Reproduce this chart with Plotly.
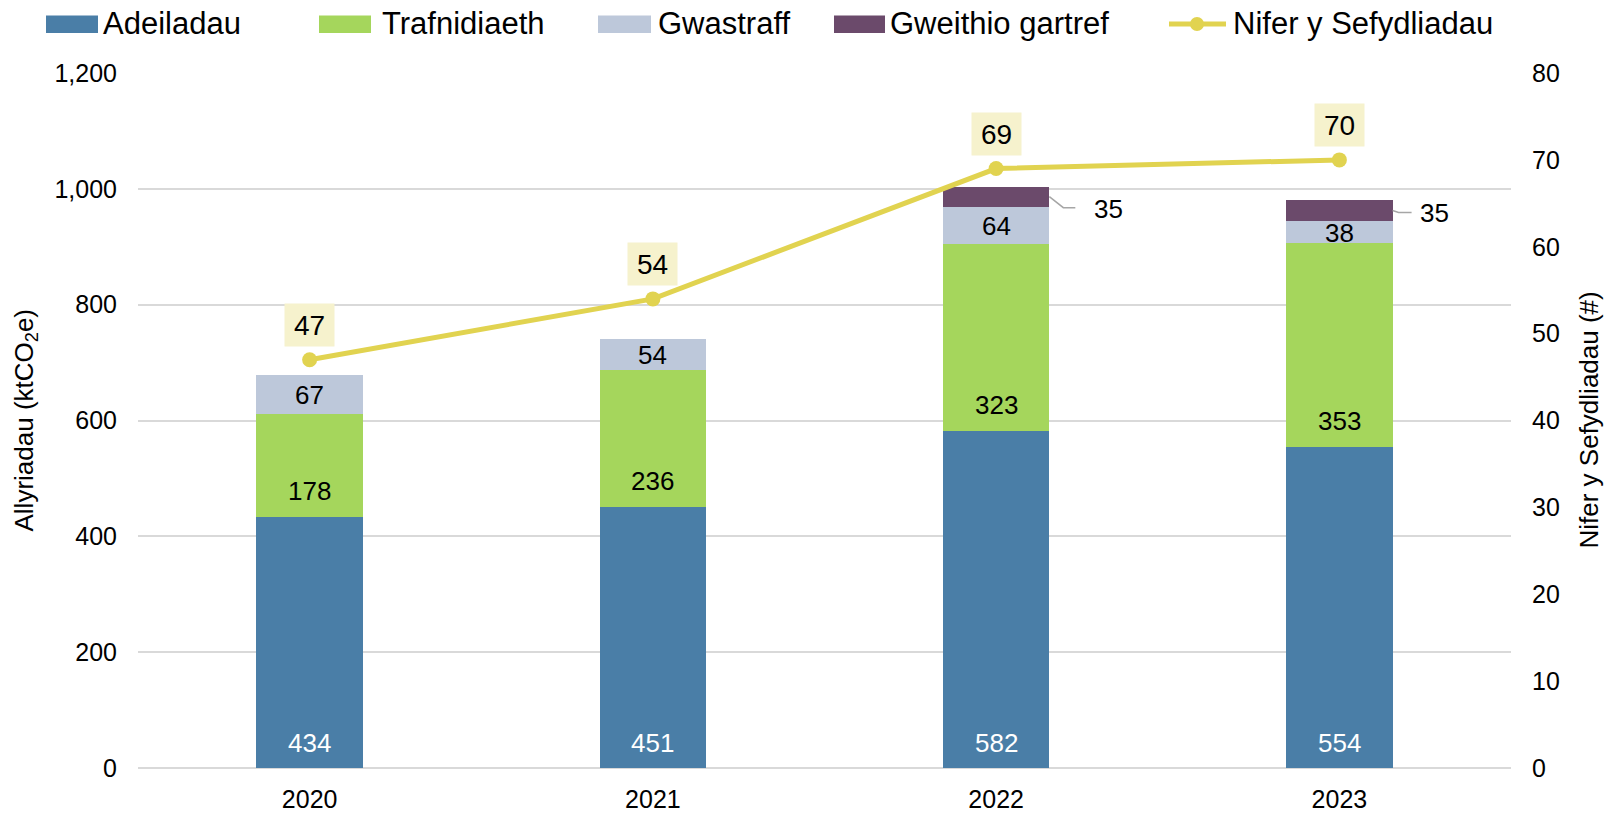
import plotly.graph_objects as go

# ---------------- data ----------------
years = ["2020", "2021", "2022", "2023"]
adeiladau = [434, 451, 582, 554]
trafnidiaeth = [178, 236, 323, 353]
gwastraff = [67, 54, 64, 38]
gweithio = [None, None, 35, 35]
sefydliadau = [47, 54, 69, 70]
series_names = ["Adeiladau", "Trafnidiaeth", "Gwastraff", "Gweithio gartref", "Nifer y Sefydliadau"]
left_ticks = [0, 200, 400, 600, 800, 1000, 1200]
right_ticks = [0, 10, 20, 30, 40, 50, 60, 70, 80]
left_title = "Allyriadau (ktCO<sub>2</sub>e)"
right_title = "Nifer y Sefydliadau (#)"

# ---------------- style ----------------
C_AD = "#4a7ea7"
C_TR = "#a5d65c"
C_GW = "#bdc8da"
C_GG = "#6b4a6b"
C_LINE = "#e1d350"
C_LBL = "#f6f2cd"
C_GRID = "#d9d9d9"
FONT = "Liberation Sans, Arial, sans-serif"

W, H = 1610, 813
ML, MR, MT, MB = 138, 99, 73, 45
PW, PH = W - ML - MR, H - MT - MB
BAR_W = 0.31

def px(x):
    return (x - ML) / PW

def py(y):
    return (H - MB - y) / PH

xpos = list(range(len(years)))

fig = go.Figure()
stack = [adeiladau, trafnidiaeth, gwastraff, gweithio]
colors = [C_AD, C_TR, C_GW, C_GG]
for name, vals, col in zip(series_names[:4], stack, colors):
    fig.add_trace(go.Bar(x=xpos, y=vals, name=name, marker_color=col, width=BAR_W,
                         marker_line_width=0, showlegend=False, yaxis="y",
                         hoverinfo="y+name"))

fig.add_trace(go.Scatter(x=xpos, y=sefydliadau, name=series_names[4], yaxis="y2",
                         mode="lines+markers", line=dict(color=C_LINE, width=5),
                         marker=dict(color=C_LINE, size=15), showlegend=False))

annotations = []
shapes = []

# segment labels
for i in xpos:
    a, t, g = adeiladau[i], trafnidiaeth[i], gwastraff[i]
    annotations.append(dict(x=i, y=0, xref="x", yref="y", yshift=25, text=str(a), showarrow=False,
                            font=dict(color="white", size=26, family=FONT)))
    annotations.append(dict(x=i, y=a, xref="x", yref="y", yshift=26, text=str(t), showarrow=False,
                            font=dict(color="black", size=26, family=FONT)))
    annotations.append(dict(x=i, y=a + t + g / 2, xref="x", yref="y", yshift=-1, text=str(g),
                            showarrow=False, font=dict(color="black", size=26, family=FONT)))

# Gweithio gartref labels with leader lines (pixel offsets)
leader_paths = {2: "M0,0 L14,-11 L26,-11", 3: "M0,0 L6,-2 L19,-2"}
label_off = {2: (59, -12), 3: (42, -2)}
for i in xpos:
    w = gweithio[i]
    if w is None:
        continue
    base = adeiladau[i] + trafnidiaeth[i] + gwastraff[i]
    ymid = base + w / 2
    xe = i + BAR_W / 2
    shapes.append(dict(type="path", xref="x", yref="y", xsizemode="pixel", ysizemode="pixel",
                       xanchor=xe, yanchor=ymid, path=leader_paths[i],
                       line=dict(color="#a6a6a6", width=1.5)))
    dx, dy = label_off[i]
    annotations.append(dict(x=xe, y=ymid, xref="x", yref="y", xshift=dx, yshift=dy, text=str(w),
                            showarrow=False, font=dict(color="black", size=26, family=FONT)))

# line labels with background box
for i, v in zip(xpos, sefydliadau):
    annotations.append(dict(x=i, y=v, xref="x", yref="y2", yshift=35, text=str(v), showarrow=False,
                            bgcolor=C_LBL, width=49, height=42, borderpad=0,
                            font=dict(color="black", size=28, family=FONT)))

# axis titles
annotations.append(dict(xref="paper", yref="paper", x=px(25), y=0.5, text=left_title,
                        textangle=-90, showarrow=False, xanchor="center", yanchor="middle",
                        font=dict(size=26, color="black", family=FONT)))
annotations.append(dict(xref="paper", yref="paper", x=px(1588), y=0.5, text=right_title,
                        textangle=-90, showarrow=False, xanchor="center", yanchor="middle",
                        font=dict(size=26, color="black", family=FONT)))

# manual legend
sw = [(46, 98), (319, 371), (598, 651), (834, 885)]
txt_x = [101, 380, 656, 888, 1231]
leg_y = 24
for (x0, x1), col in zip(sw, colors):
    shapes.append(dict(type="rect", xref="paper", yref="paper", x0=px(x0), x1=px(x1),
                       y0=py(15.5), y1=py(33), fillcolor=col, line=dict(width=0)))
shapes.append(dict(type="line", xref="paper", yref="paper", x0=px(1169), x1=px(1226),
                   y0=py(leg_y), y1=py(leg_y), line=dict(color=C_LINE, width=5)))
shapes.append(dict(type="circle", xref="paper", yref="paper", x0=px(1197 - 7), x1=px(1197 + 7),
                   y0=py(leg_y + 7), y1=py(leg_y - 7), fillcolor=C_LINE, line=dict(width=0)))
for name, tx in zip(series_names, txt_x):
    annotations.append(dict(xref="paper", yref="paper", x=px(tx), y=py(leg_y), text=name,
                            showarrow=False, xanchor="left", yanchor="middle",
                            font=dict(size=31, color="black", family=FONT)))

fig.update_layout(
    width=W, height=H,
    margin=dict(l=ML, r=MR, t=MT, b=MB, autoexpand=False),
    barmode="stack",
    plot_bgcolor="white", paper_bgcolor="white",
    font=dict(family=FONT, color="black", size=25),
    showlegend=False,
    xaxis=dict(range=[-0.5, len(years) - 0.5], tickvals=xpos, ticktext=years,
               showgrid=False, showline=False, zeroline=False, ticks="",
               tickfont=dict(size=25), ticklabelstandoff=14),
    yaxis=dict(range=[0, 1200], tickvals=left_ticks, tickformat=",", showgrid=True,
               gridcolor=C_GRID, gridwidth=1.5, zeroline=True, zerolinecolor=C_GRID,
               zerolinewidth=1.5, showline=False, ticks="", tickfont=dict(size=25),
               ticklabelstandoff=20),
    yaxis2=dict(range=[0, 80], tickvals=right_ticks, overlaying="y", side="right",
                showgrid=False, zeroline=False, showline=False, ticks="",
                tickfont=dict(size=25), ticklabelstandoff=20),
    annotations=annotations,
    shapes=shapes,
)

fig.write_html("out.html", config={"displayModeBar": False},
               post_script="document.body.style.margin='0';")
